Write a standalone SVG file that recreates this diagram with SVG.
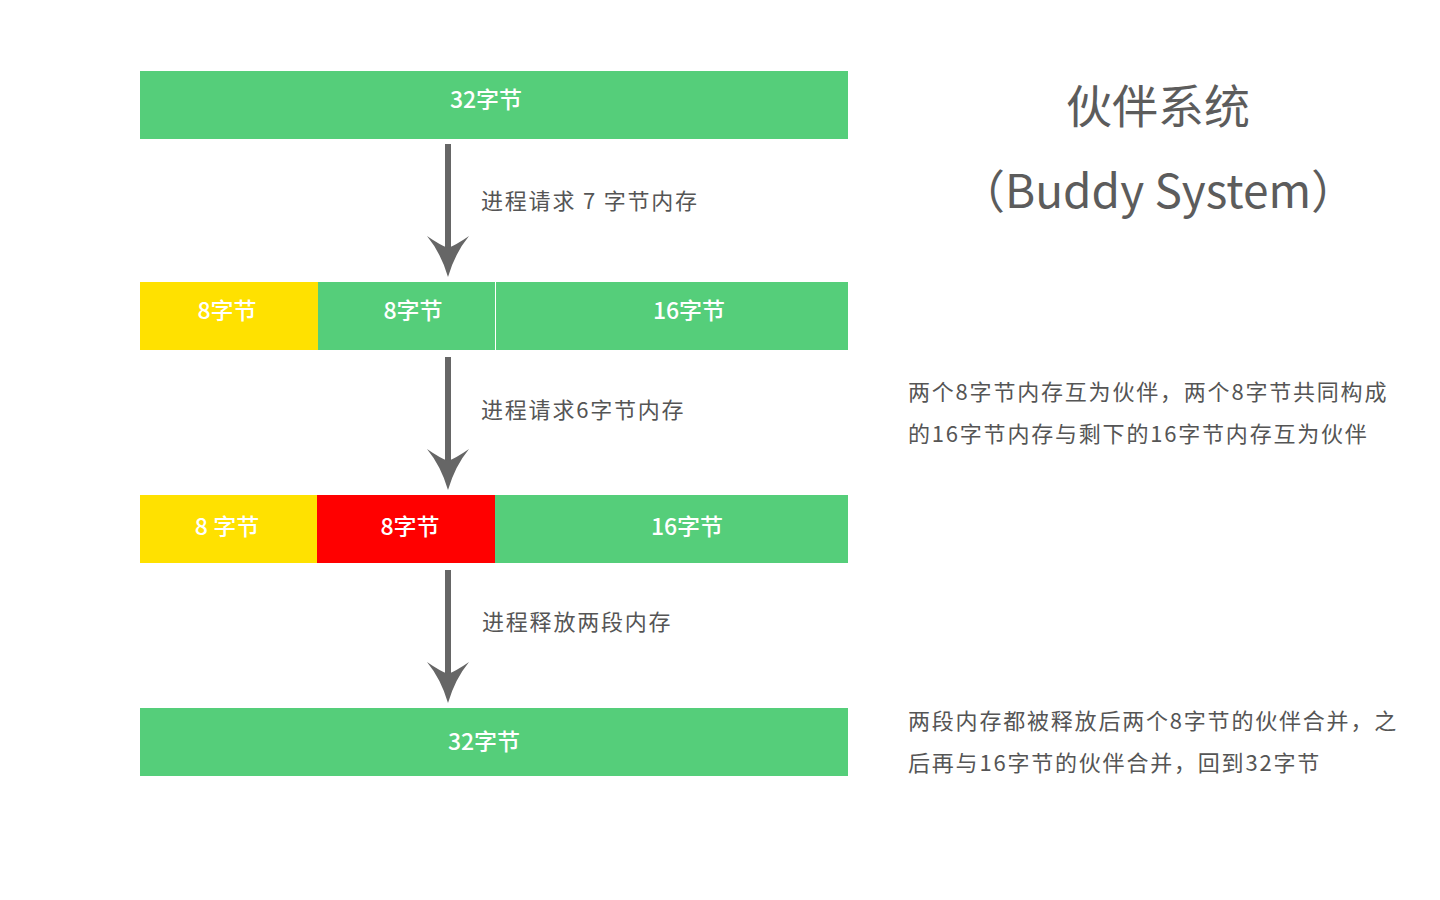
<svg xmlns="http://www.w3.org/2000/svg" xmlns:xlink="http://www.w3.org/1999/xlink" width="1440" height="900" viewBox="0 0 1440 900">
  <style>
    .g { fill: #55CE7A; }
    .y { fill: #FFE100; }
    .r { fill: #FF0000; }
    .bt { font-family: "Noto Sans CJK SC", "Noto Sans", sans-serif; font-size: 23px; font-weight: 500; fill: #ffffff; text-anchor: middle; }
    .lbl { font-family: "Noto Sans CJK SC", "Noto Sans", sans-serif; font-size: 22px; fill: #555555; letter-spacing: 1.8px; }
    .ttl { font-family: "Noto Sans CJK SC", "Noto Sans", sans-serif; font-size: 46px; fill: #5c5c5c; text-anchor: middle; }
    .shaft { stroke: #666666; stroke-width: 6; fill: none; }
    .head { fill: #666666; }
  </style>
  <defs>
    <path id="ah" class="head" d="M0,0 Q-7,-24 -21,-41 Q-8,-32 0,-29 Q8,-32 21,-41 Q7,-24 0,0 Z"/>
  </defs>
  <rect width="1440" height="900" fill="#ffffff"/>

  <g id="row1">
    <rect class="g" x="140" y="71" width="708" height="68"/>
    <text class="bt" x="486" y="108">32字节</text>
  </g>

  <g id="row2">
    <rect class="y" x="140" y="282" width="178" height="68"/>
    <rect class="g" x="318" y="282" width="177" height="68"/>
    <rect class="g" x="496" y="282" width="352" height="68"/>
    <text class="bt" x="227" y="319">8字节</text>
    <text class="bt" x="413" y="319">8字节</text>
    <text class="bt" x="689" y="319">16字节</text>
  </g>

  <g id="row3">
    <rect class="y" x="140" y="495" width="177" height="68"/>
    <rect class="r" x="317" y="495" width="178" height="68"/>
    <rect class="g" x="495" y="495" width="353" height="68"/>
    <text class="bt" x="227" y="535">8 字节</text>
    <text class="bt" x="410" y="535">8字节</text>
    <text class="bt" x="687" y="535">16字节</text>
  </g>

  <g id="row4">
    <rect class="g" x="140" y="708" width="708" height="68"/>
    <text class="bt" x="484" y="750">32字节</text>
  </g>

  <g id="connectors">
    <line class="shaft" x1="448" y1="144" x2="448" y2="250"/>
    <use xlink:href="#ah" href="#ah" x="448" y="277"/>
    <line class="shaft" x1="448" y1="357" x2="448" y2="463"/>
    <use xlink:href="#ah" href="#ah" x="448" y="490"/>
    <line class="shaft" x1="448" y1="570" x2="448" y2="676"/>
    <use xlink:href="#ah" href="#ah" x="448" y="703"/>
  </g>

  <g id="labels">
    <text class="lbl" x="481" y="209">进程请求 7 字节内存</text>
    <text class="lbl" x="481" y="418">进程请求6字节内存</text>
    <text class="lbl" x="482" y="630">进程释放两段内存</text>
  </g>

  <g id="title">
    <text class="ttl" x="1158" y="123">伙伴系统</text>
    <text class="ttl" x="1158" y="208">（Buddy System）</text>
  </g>

  <g id="note1">
    <text class="lbl" x="908" y="400">两个8字节内存互为伙伴，两个8字节共同构成</text>
    <text class="lbl" x="908" y="442">的16字节内存与剩下的16字节内存互为伙伴</text>
  </g>

  <g id="note2">
    <text class="lbl" x="908" y="729">两段内存都被释放后两个8字节的伙伴合并，之</text>
    <text class="lbl" x="908" y="771">后再与16字节的伙伴合并，回到32字节</text>
  </g>
</svg>
